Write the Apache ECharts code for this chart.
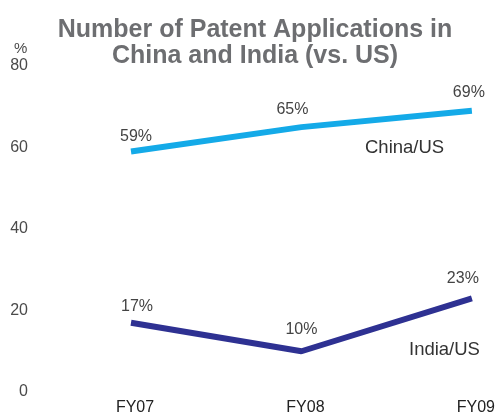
<!DOCTYPE html>
<html>
<head>
<meta charset="utf-8">
<script src="https://cdn.jsdelivr.net/npm/echarts@6/dist/echarts.min.js"></script>
<style>
  html, body { margin: 0; padding: 0; background: #fff; }
  #chart { width: 498px; height: 417px; }
</style>
</head>
<body>
<div id="chart"></div>
<script>
// Patent applications relative to the US, by fiscal year
const categories = ['FY07', 'FY08', 'FY09'];
const chinaVsUS = [59, 65, 69];
const indiaVsUS = [17, 10, 23];
const yTicks = [0, 20, 40, 60, 80];

// Nudges for the value labels so they sit clear of the lines
const chinaLabelShift = [[5, 1], [-9, -1], [-3, -2]];
const indiaLabelShift = [[6, 0], [0, -6], [-9, -4]];

const FONT = "'Liberation Sans', Arial, Helvetica, sans-serif";
const chart = echarts.init(document.getElementById('chart'));

function withLabels(values, shifts) {
  return values.map((v, i) => ({ value: v, label: { offset: shifts[i] } }));
}

const valueLabel = {
  show: true, position: 'top', distance: 8,
  formatter: p => p.value + '%',
  fontFamily: FONT, fontSize: 16, color: '#444'
};

chart.setOption({
  animation: false,
  title: {
    text: 'Number of Patent Applications in\nChina and India (vs. US)',
    left: 250,
    textAlign: 'center',
    top: 12,
    textStyle: {
      fontFamily: FONT,
      fontSize: 25,
      fontWeight: 'bold',
      lineHeight: 26,
      color: '#6d6e71'
    }
  },
  grid: { left: 131, right: 23, top: 66, bottom: 25, containLabel: false },
  xAxis: {
    type: 'category',
    data: categories,
    boundaryGap: false,
    axisLine: { show: false },
    axisTick: { show: false },
    axisLabel: { margin: 8, fontFamily: FONT, fontSize: 16, color: '#222', padding: [0, 0, 0, 8] }
  },
  yAxis: {
    type: 'value',
    min: yTicks[0],
    max: yTicks[yTicks.length - 1],
    interval: 20,
    splitLine: { show: false },
    axisLine: { show: false },
    axisTick: { show: false },
    axisLabel: { margin: 103, fontFamily: FONT, fontSize: 16, color: '#4a4a4a' }
  },
  graphic: [
    { type: 'text', left: 14, top: 41, style: { text: '%', font: '15px ' + FONT, fill: '#4a4a4a' } },
    { type: 'text', left: 365, top: 138, style: { text: 'China/US', font: '18.5px ' + FONT, fill: '#333' } },
    { type: 'text', left: 409, top: 340, style: { text: 'India/US', font: '18.5px ' + FONT, fill: '#333' } }
  ],
  series: [
    {
      name: 'China/US',
      type: 'line',
      data: withLabels(chinaVsUS, chinaLabelShift),
      symbol: 'circle',
      symbolSize: 0.1,
      itemStyle: { color: '#14aae8' },
      lineStyle: { width: 6, color: '#14aae8' },
      label: valueLabel
    },
    {
      name: 'India/US',
      type: 'line',
      data: withLabels(indiaVsUS, indiaLabelShift),
      symbol: 'circle',
      symbolSize: 0.1,
      itemStyle: { color: '#2e3192' },
      lineStyle: { width: 6, color: '#2e3192' },
      label: valueLabel
    }
  ]
});
</script>
</body>
</html>
